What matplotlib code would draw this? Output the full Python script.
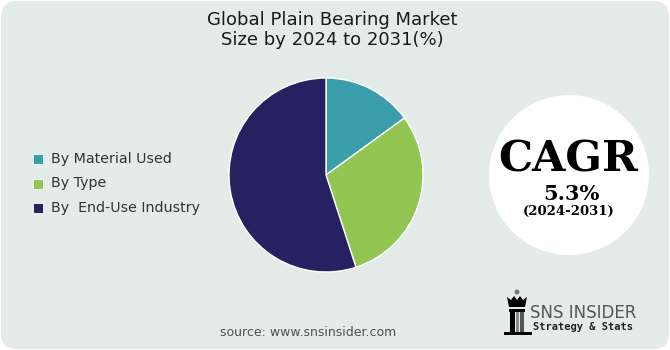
import matplotlib
matplotlib.use("Agg")
import matplotlib.pyplot as plt
from matplotlib.patches import FancyBboxPatch, Circle, Rectangle, Polygon

# chart data
segments = ["By Material Used", "By Type", "By  End-Use Industry"]
shares = [15, 30, 55]
colors = ["#3a9eab", "#92c551", "#262160"]

title = "Global Plain Bearing Market\nSize by 2024 to 2031(%)"
cagr_value = "5.3%"
cagr_period = "(2024-2031)"
source = "source: www.snsinsider.com"

W, H = 670, 350
BG = "#e4ecea"

fig = plt.figure(figsize=(W / 100, H / 100), dpi=100)
fig.patch.set_facecolor("white")

# background canvas in pixel coordinates (y downwards)
bg = fig.add_axes([0, 0, 1, 1])
bg.set_xlim(0, W)
bg.set_ylim(H, 0)
bg.axis("off")
bg.add_patch(FancyBboxPatch((1, 1), W - 2, H - 2,
                            boxstyle="round,pad=0,rounding_size=16",
                            facecolor=BG, edgecolor="none"))

bg.text(W / 2 - 3, 30, title, ha="center", va="center", fontsize=13,
        color="#1a1a1a", linespacing=1.2, family="DejaVu Sans")

# legend
for i, (lab, col) in enumerate(zip(segments, colors)):
    y = 159 + i * 24.5
    bg.add_patch(Rectangle((33, y - 5), 10, 10, facecolor=col, edgecolor="white", lw=0.6))
    bg.text(51, y, lab, ha="left", va="center", fontsize=10.3, color="#333333")

# CAGR badge
bg.add_patch(Circle((569, 175), 80, facecolor="white", edgecolor="none"))
bg.text(568, 159, "CAGR", ha="center", va="center", fontsize=31,
        fontweight="bold", family="DejaVu Serif", color="black")
bg.text(571, 194, cagr_value, ha="center", va="center", fontsize=15,
        fontweight="bold", family="DejaVu Serif", color="black")
bg.text(569, 211, cagr_period, ha="center", va="center", fontsize=9.5,
        fontweight="bold", family="DejaVu Serif", color="black")

# source line
bg.text(308, 333, source, ha="center", va="center", fontsize=9,
        color="#505050", family="DejaVu Sans")

# logo (rough tower icon)
bg.add_patch(Circle((517, 292), 2.5, facecolor="#777777", edgecolor="none"))
bg.add_patch(Polygon([(507, 297), (511, 300), (514, 296), (517, 300), (520, 296),
                      (523, 300), (527, 297), (525, 307), (509, 307)],
                     facecolor="black", edgecolor="none"))
bg.add_patch(Rectangle((509, 309), 16, 3, facecolor="black", edgecolor="none"))
bg.add_patch(Rectangle((510, 312), 5, 20, facecolor="black", edgecolor="none"))
bg.add_patch(Rectangle((516, 312), 3, 20, facecolor="#888888", edgecolor="none"))
bg.add_patch(Rectangle((520, 312), 4, 20, facecolor="#555555", edgecolor="none"))
bg.add_patch(Rectangle((504, 332), 28, 3, facecolor="black", edgecolor="none"))
bg.text(530, 313, "SNS INSIDER", ha="left", va="center", fontsize=12,
        color="#555555", family="DejaVu Sans")
bg.text(533, 327, "Strategy & Stats", ha="left", va="center",
        fontsize=7.5, fontweight="bold", color="#222222", family="DejaVu Sans Mono")

# pie
cx, cy, r = 326, 175, 97
pie_ax = fig.add_axes([(cx - r) / W, (H - cy - r) / H, 2 * r / W, 2 * r / H])
pie_ax.pie(shares, colors=colors, startangle=90, counterclock=False,
           wedgeprops=dict(edgecolor="white", linewidth=1.0))
pie_ax.set_xlim(-1, 1)
pie_ax.set_ylim(-1, 1)
pie_ax.set_aspect("equal")
pie_ax.axis("off")

fig.savefig("out.png", dpi=100, facecolor=fig.get_facecolor())
